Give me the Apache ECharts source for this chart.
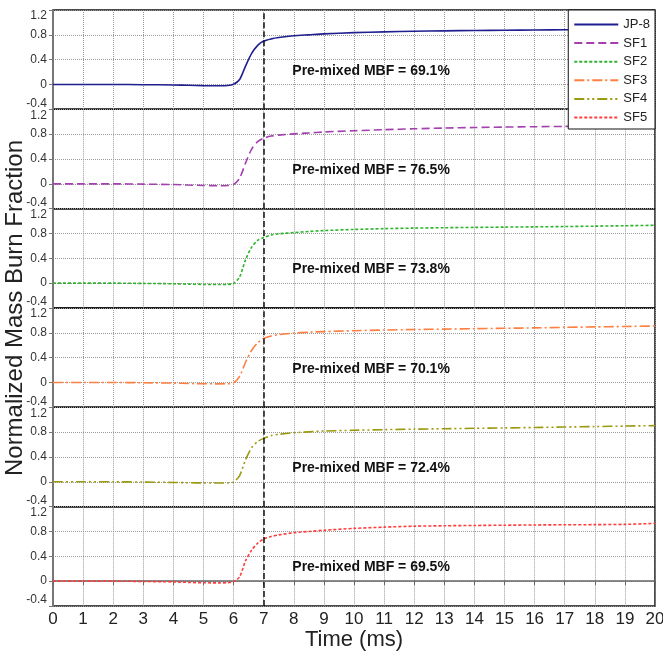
<!DOCTYPE html>
<html>
<head>
<meta charset="utf-8">
<script src="https://cdn.jsdelivr.net/npm/echarts@6/dist/echarts.min.js"></script>
<style>
  html, body { margin: 0; padding: 0; background: #fff; }
  #chart { width: 663px; height: 655px; }
</style>
</head>
<body>
<div id="chart"></div>
<script>
// time axis (ms)
var times = [0, 1, 2, 3, 4, 4.5, 5, 5.5, 5.8, 6, 6.2, 6.4, 6.6, 6.8, 7, 7.25, 7.5, 8, 8.5, 9, 10, 11, 12, 13, 14, 15, 16, 17, 18, 19, 20];

// normalized mass burn fraction
var jp8 = [0, 0, 0, -0.003, -0.008, -0.013, -0.018, -0.02, -0.016, 0.004, 0.08, 0.3, 0.5, 0.63, 0.70, 0.735, 0.757, 0.785, 0.80, 0.815, 0.835, 0.848, 0.857, 0.864, 0.87, 0.874, 0.878, 0.881, 0.884, 0.886, 0.89];
var sf1 = [0, 0, 0, -0.005, -0.012, -0.02, -0.026, -0.03, -0.027, -0.01, 0.09, 0.34, 0.56, 0.68, 0.735, 0.77, 0.785, 0.805, 0.82, 0.835, 0.855, 0.872, 0.887, 0.898, 0.907, 0.914, 0.92, 0.925, 0.93, 0.935, 0.94];
var sf2 = [0, 0, 0, -0.004, -0.01, -0.016, -0.02, -0.022, -0.02, -0.005, 0.1, 0.38, 0.58, 0.69, 0.735, 0.775, 0.795, 0.815, 0.832, 0.847, 0.865, 0.878, 0.887, 0.893, 0.898, 0.903, 0.907, 0.912, 0.918, 0.925, 0.932];
var sf3 = [0, 0, 0, -0.004, -0.01, -0.016, -0.02, -0.022, -0.02, -0.005, 0.1, 0.33, 0.52, 0.64, 0.71, 0.75, 0.772, 0.795, 0.81, 0.82, 0.834, 0.845, 0.853, 0.86, 0.867, 0.873, 0.88, 0.888, 0.895, 0.902, 0.91];
var sf4 = [0, 0, 0, -0.004, -0.01, -0.015, -0.018, -0.02, -0.018, -0.004, 0.1, 0.36, 0.55, 0.65, 0.70, 0.745, 0.765, 0.79, 0.805, 0.818, 0.83, 0.84, 0.848, 0.855, 0.862, 0.868, 0.875, 0.883, 0.89, 0.898, 0.905];
var sf5 = [0, 0, 0, -0.005, -0.012, -0.02, -0.026, -0.028, -0.025, -0.008, 0.07, 0.33, 0.5, 0.61, 0.68, 0.72, 0.745, 0.78, 0.80, 0.82, 0.85, 0.87, 0.885, 0.892, 0.897, 0.901, 0.905, 0.908, 0.91, 0.915, 0.93];

var fuelNames = ['JP-8', 'SF1', 'SF2', 'SF3', 'SF4', 'SF5'];
var mbfText = ['69.1%', '76.5%', '73.8%', '70.1%', '72.4%', '69.5%'];
var yTicks = [-0.4, 0, 0.4, 0.8, 1.2];

var allData = [jp8, sf1, sf2, sf3, sf4, sf5];
var colors = ['#1f1f8f', '#a43fb0', '#2cb52c', '#ff7f40', '#9a9a10', '#ff3b3b'];
var dashes = ['solid', [8, 4], [3, 2], [10, 3, 2, 3], [10, 3, 2, 3, 2, 3], [3, 2]];

var chart = echarts.init(document.getElementById('chart'));

var top0 = 10, panelH = 99.33;
var grids = [], xAxes = [], yAxes = [], series = [];
var fontMain = "'Liberation Sans', Arial, sans-serif";
var fontNarrow = "'Liberation Sans Narrow', 'Arial Narrow', 'Liberation Sans', sans-serif";

for (var i = 0; i < 6; i++) {
	var last = (i == 5);
	grids.push({
		left: 53, right: 8,
		top: top0 + i * panelH, height: panelH,
		show: true, borderColor: '#111', borderWidth: 1.5,
		containLabel: false,
		outerBoundsMode: 'none'
	});
	xAxes.push({
		type: 'value', gridIndex: i,
		min: 0, max: 20, interval: 1,
		axisLine: { show: last, lineStyle: { color: '#666', width: 1.5 } },
		axisTick: { show: last, length: 4, lineStyle: { color: '#666' } },
		axisLabel: { show: last, margin: 5, fontSize: 17, color: '#222', fontFamily: fontNarrow },
		splitLine: { show: true, lineStyle: { color: '#999', type: 'dotted', width: 1 } },
		name: last ? 'Time (ms)' : '',
		nameLocation: 'middle', nameGap: 22,
		nameTextStyle: { fontSize: 22, color: '#222', fontFamily: fontNarrow }
	});
	yAxes.push({
		type: 'value', gridIndex: i,
		min: yTicks[0], max: yTicks[yTicks.length - 1], interval: 0.4,
		axisLine: { show: true, lineStyle: { color: '#777', width: 2 } },
		axisTick: { show: true, length: 4, lineStyle: { color: '#777' } },
		axisLabel: {
			fontSize: 12, color: '#333', fontFamily: fontMain, margin: 6,
			verticalAlignMinLabel: 'bottom', verticalAlignMaxLabel: 'top',
			formatter: function (v) { return String(Math.round(v * 10) / 10); }
		},
		splitLine: { show: true, lineStyle: { color: '#999', type: 'dotted', width: 1 } }
	});
	var pts = [];
	for (var k = 0; k < times.length; k++) pts.push([times[k], allData[i][k]]);
	series.push({
		name: fuelNames[i], type: 'line',
		xAxisIndex: i, yAxisIndex: i,
		data: pts, smooth: 0.25, symbol: 'none',
		lineStyle: { color: colors[i], width: 1.6, type: dashes[i] },
		itemStyle: { color: colors[i] },
		markLine: {
			silent: true, symbol: 'none', label: { show: false },
			lineStyle: { color: '#111', width: 1.5, type: [6, 3] },
			data: [{ xAxis: 7 }]
		},
		markPoint: {
			silent: true, symbol: 'circle', symbolSize: 0,
			label: {
				show: true, position: 'right', distance: 0,
				color: '#111', fontSize: 14, fontWeight: 'bold', fontFamily: fontMain,
				formatter: 'Pre-mixed MBF = ' + mbfText[i]
			},
			data: [{ coord: [7.95, 0.22] }]
		}
	});
}

var option = {
	backgroundColor: '#fff',
	animation: false,
	grid: grids,
	xAxis: xAxes,
	yAxis: yAxes,
	legend: {
		data: fuelNames,
		orient: 'vertical',
		right: 8, top: 10,
		itemWidth: 44, itemHeight: 14, itemGap: 5.6,
		padding: [8, 5, 5, 5],
		backgroundColor: '#fff',
		borderColor: '#111', borderWidth: 1,
		itemStyle: { opacity: 0 },
		textStyle: { fontSize: 13, color: '#222', fontFamily: fontMain },
		z: 10
	},
	graphic: [{
		type: 'text',
		x: 15, y: 308,
		rotation: Math.PI / 2,
		style: {
			text: 'Normalized Mass Burn Fraction',
			fontSize: 24, fill: '#222', fontFamily: fontMain,
			align: 'center', verticalAlign: 'middle'
		}
	}],
	series: series
};

chart.setOption(option);
</script>
</body>
</html>
